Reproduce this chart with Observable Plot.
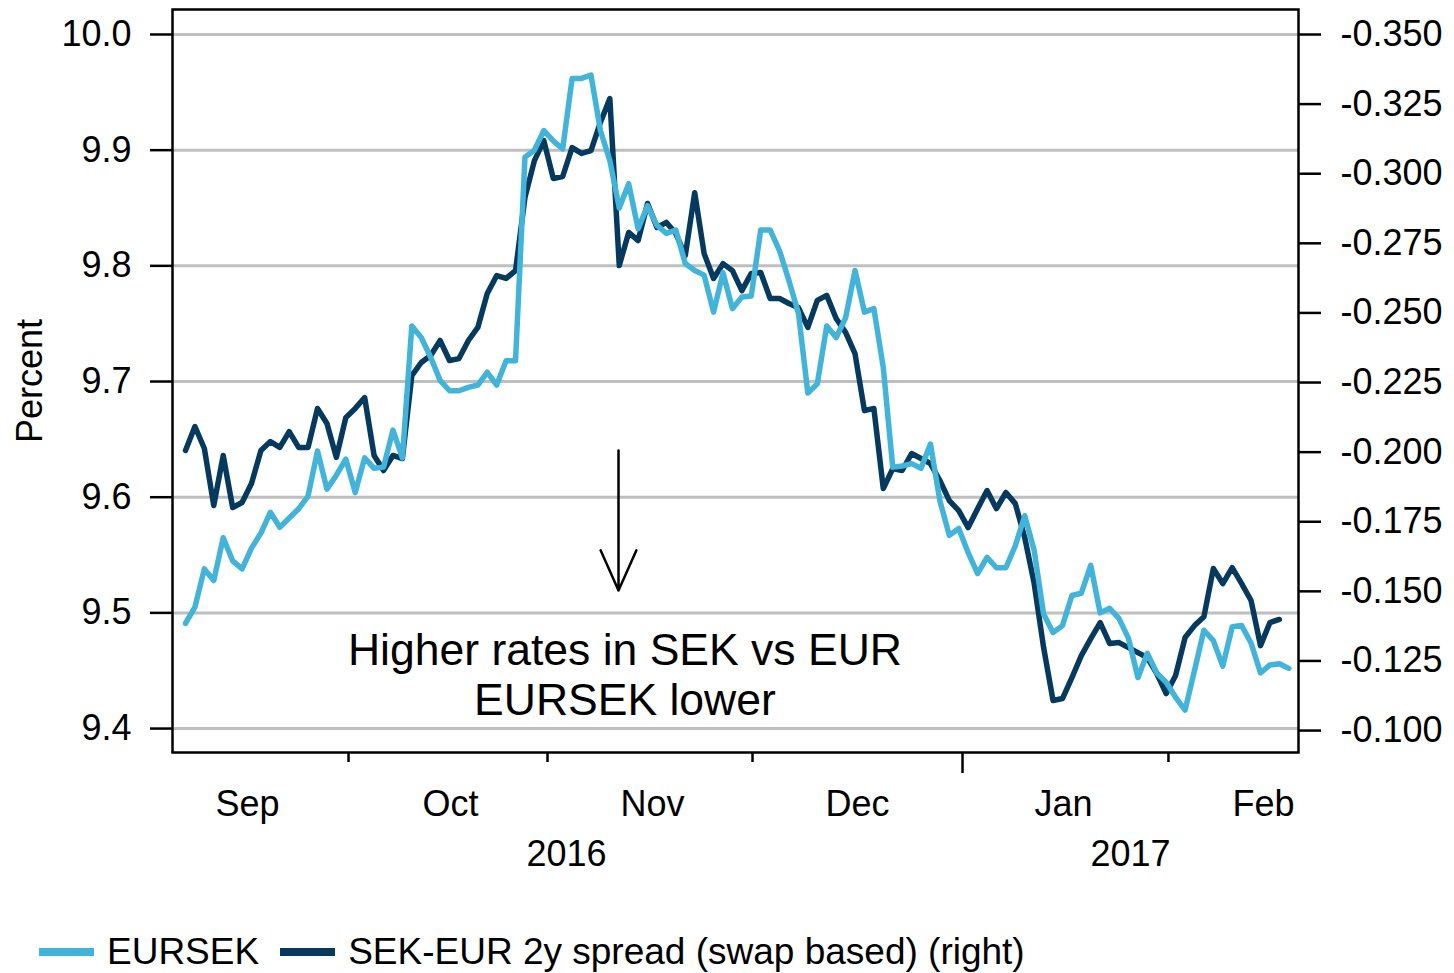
<!DOCTYPE html>
<html><head><meta charset="utf-8">
<script src="https://cdn.jsdelivr.net/npm/d3@7"></script>
<script src="https://cdn.jsdelivr.net/npm/@observablehq/plot@0.6"></script>
<style>
body{margin:0;background:#fff;font-family:"Liberation Sans",Arial,sans-serif;color:#000;}
#chart svg{display:block;}
#legend{display:flex;align-items:center;height:44px;margin-top:25px;padding-left:39px;font-size:37px;color:#000;white-space:nowrap;}
.item{display:flex;align-items:center;margin-right:21px;}
.sw{display:inline-block;width:55px;height:8px;margin-right:13px;}
</style></head><body>
<div id="chart"></div>
<div id="legend"></div>
<script>
// EURSEK (left axis), one value per trading day
const eursek = [9.491, 9.505, 9.538, 9.528, 9.565, 9.545, 9.538, 9.556, 9.569, 9.587,
9.574, 9.582, 9.590, 9.601, 9.640, 9.607, 9.619, 9.633, 9.604, 9.634,
9.625, 9.626, 9.658, 9.634, 9.748, 9.738, 9.721, 9.701, 9.692, 9.692,
9.695, 9.697, 9.708, 9.697, 9.718, 9.718, 9.894, 9.900, 9.917, 9.908,
9.901, 9.962, 9.962, 9.965, 9.917, 9.891, 9.850, 9.871, 9.832, 9.852,
9.835, 9.828, 9.831, 9.802, 9.796, 9.792, 9.760, 9.794, 9.763, 9.773,
9.774, 9.831, 9.831, 9.813, 9.787, 9.759, 9.690, 9.698, 9.748, 9.738,
9.755, 9.796, 9.760, 9.763, 9.712, 9.626, 9.627, 9.629, 9.625, 9.646,
9.597, 9.567, 9.573, 9.552, 9.534, 9.548, 9.539, 9.539, 9.558, 9.584,
9.554, 9.499, 9.483, 9.489, 9.515, 9.517, 9.541, 9.500, 9.504, 9.495,
9.478, 9.444, 9.465, 9.448, 9.440, 9.427, 9.416, 9.450, 9.485, 9.476,
9.454, 9.488, 9.489, 9.474, 9.448, 9.455, 9.456, 9.452];

// SEK-EUR 2y spread (right axis)
const spread = [-0.2006, -0.2092, -0.2013, -0.1808, -0.1988, -0.1801, -0.1819, -0.1887, -0.2006, -0.2038,
-0.2017, -0.2074, -0.2017, -0.2017, -0.2157, -0.2103, -0.1981, -0.2124, -0.2157, -0.2196,
-0.1988, -0.1934, -0.1988, -0.1977, -0.2275, -0.2322, -0.2347, -0.2401, -0.2329, -0.2336,
-0.2401, -0.2448, -0.2570, -0.2634, -0.2624, -0.2652, -0.2915, -0.3047, -0.3119, -0.2983,
-0.2990, -0.3094, -0.3073, -0.3083, -0.3184, -0.3270, -0.2670, -0.2789, -0.2760, -0.2893,
-0.2807, -0.2825, -0.2785, -0.2706, -0.2932, -0.2713, -0.2624, -0.2677, -0.2652, -0.2580,
-0.2642, -0.2645, -0.2552, -0.2552, -0.2534, -0.2519, -0.2448, -0.2545, -0.2563, -0.2480,
-0.2430, -0.2354, -0.2149, -0.2157, -0.1869, -0.1941, -0.1934, -0.1995, -0.1977, -0.1959,
-0.1898, -0.1826, -0.1790, -0.1729, -0.1797, -0.1862, -0.1797, -0.1855, -0.1815, -0.1693,
-0.1528, -0.1298, -0.1108, -0.1115, -0.1190, -0.1269, -0.1330, -0.1388, -0.1313, -0.1316,
-0.1298, -0.1280, -0.1262, -0.1205, -0.1133, -0.1198, -0.1334, -0.1377, -0.1409, -0.1582,
-0.1528, -0.1585, -0.1528, -0.1467, -0.1305, -0.1388, -0.1399];

// Axis ticks and labels
const leftTicks = [9.4, 9.5, 9.6, 9.7, 9.8, 9.9, 10.0];
const rightTicks = [-0.350, -0.325, -0.300, -0.275, -0.250, -0.225, -0.200, -0.175, -0.150, -0.125, -0.100];
const rightTickLabels = ["-0.350", "-0.325", "-0.300", "-0.275", "-0.250", "-0.225", "-0.200", "-0.175", "-0.150", "-0.125", "-0.100"];
// month boundaries and month/year label positions, in trading-day index units
const monthBounds = [17.29, 38.39, 60.13, 104.24];
const yearBounds = [82.40];
const monthLabels = ["Sep", "Oct", "Nov", "Dec", "Jan", "Feb"];
const monthCenters = [6.57, 28.10, 49.52, 71.26, 93.11, 114.32];
const yearLabels = ["2016", "2017"];
const yearCenters = [40.40, 100.21];
const annotationText = "Higher rates in SEK vs EUR\nEURSEK lower";
const annotationAt = {x: 46.6, y: 9.4475};
const arrowAt = {x: 45.92, y1: 9.6403, y2: 9.5193};
const seriesNames = ["EURSEK", "SEK-EUR 2y spread (swap based) (right)"];
const colors = ["#42b4d9", "#053a5e"];

// map right-axis values onto the left-axis scale
const toLeft = v => 9.39827 + (-0.1 - v) * 2.40685;

const eursekData = eursek.map((v, i) => ({i, v}));
const spreadData = spread.map((v, i) => ({i, v}));
const rightPos = rightTicks.map(toLeft);
const rightMap = new Map(rightPos.map((p, k) => [p, rightTickLabels[k]]));
const monthMap = new Map(monthCenters.map((p, k) => [p, monthLabels[k]]));
const yearMap = new Map(yearCenters.map((p, k) => [p, yearLabels[k]]));

const H = 905;
const font = "'Liberation Sans', Arial, sans-serif";

const chart = Plot.plot({
  width: 1454,
  height: H,
  marginLeft: 172,
  marginRight: 156,
  marginTop: 9,
  marginBottom: H - 752,
  style: {fontFamily: font, fontSize: "36px", color: "#000", background: "#fff", overflow: "visible"},
  x: {domain: [-1.378, 118.03], label: null, axis: null},
  y: {domain: [9.3793, 10.0216], label: null, axis: null},
  marks: [
    Plot.ruleY(leftTicks, {stroke: "#bfbfbf", strokeWidth: 3}),
    Plot.line(spreadData, {x: "i", y: d => toLeft(d.v), stroke: colors[1], strokeWidth: 5.5}),
    Plot.line(eursekData, {x: "i", y: "v", stroke: colors[0], strokeWidth: 5.5}),
    Plot.arrow([arrowAt], {x: "x", y1: "y1", y2: "y2", stroke: "#000", strokeWidth: 2.5, headAngle: 48, headLength: 26.4}),
    Plot.text([annotationText], {x: annotationAt.x, y: annotationAt.y, text: d => d, fontSize: 44.5, lineHeight: 50/44.5, lineAnchor: "middle", fill: "#000"}),
    Plot.text(["Percent"], {frameAnchor: "left", text: d => d, rotate: -90, dx: -142, textAnchor: "middle", fontSize: 36, fill: "#000"}),
    Plot.axisY(leftTicks, {anchor: "left", tickSize: 22, tickPadding: 19, strokeWidth: 2.5, fontSize: 36, tickFormat: d3.format(".1f"), label: null}),
    Plot.axisY(rightPos, {anchor: "right", tickSize: 22, tickPadding: 20, strokeWidth: 2.5, fontSize: 36, tickFormat: d => rightMap.get(d), label: null}),
    Plot.axisX(monthBounds, {anchor: "bottom", tickSize: 10, strokeWidth: 2.5, tickFormat: () => "", label: null}),
    Plot.axisX(yearBounds, {anchor: "bottom", tickSize: 21, strokeWidth: 2.5, tickFormat: () => "", label: null}),
    Plot.axisX(monthCenters, {anchor: "bottom", tickSize: 0, tickPadding: 38, fontSize: 36, tickFormat: d => monthMap.get(d), label: null}),
    Plot.axisX(yearCenters, {anchor: "bottom", tickSize: 0, tickPadding: 88, fontSize: 36, tickFormat: d => yearMap.get(d), label: null}),
    Plot.frame({stroke: "#000", strokeWidth: 2.5})
  ]
});
document.getElementById("chart").appendChild(chart);

const legend = document.getElementById("legend");
seriesNames.forEach((name, k) => {
  const item = document.createElement("div");
  item.className = "item";
  const sw = document.createElement("span");
  sw.className = "sw";
  sw.style.background = colors[k];
  const t = document.createElement("span");
  t.textContent = name;
  item.appendChild(sw);
  item.appendChild(t);
  legend.appendChild(item);
});
</script></body></html>
